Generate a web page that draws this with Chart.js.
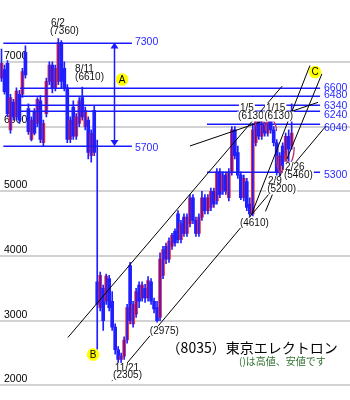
<!DOCTYPE html>
<html><head><meta charset="utf-8">
<script src="https://cdn.jsdelivr.net/npm/chart.js@4/dist/chart.umd.min.js"></script>
<style>html,body{margin:0;padding:0;background:#fff}#wrap{width:350px;height:400px;position:relative}</style>
</head><body><div id="wrap"><canvas id="c" width="350" height="400"></canvas></div>
<script>
// weekly candles (price in yen)
const opens  = [6750,6880,6980,5950,6380,6150,6500,6500,7150,6280,5800,6220,6050,6400,5750,6200,6700,6950,6600,6700,
                7300,6900,6600,5800,6300,5850,6050,6450,6000,6100,5550,6250,3600,3200,3500,3300,3650,3300,2900,2550,
                2400,2450,2700,3850,2950,3100,3550,3350,3500,3350,3600,3300,3200,3050,3700,4150,3950,4150,4380,4650,
                4250,4600,4350,4500,4900,4550,4350,4600,4900,4700,4750,5000,4850,5300,5000,5250,4900,5300,5950,5600,
                5250,4900,5150,4800,4650,5750,6100,5850,6050,5900,6100,5950,5750,5300,5700,5500,5850,5700];
const highs  = [7200,6950,7020,6500,6420,6600,6560,6900,7250,6350,6150,6280,6450,6480,6100,6750,7000,7000,6950,7360,
                7330,7000,6650,6150,6400,6200,6450,6610,6300,6150,5950,6320,5790,3750,3550,3720,3700,3450,2950,2600,
                2500,2750,3250,3900,3300,3500,3600,3600,3560,3680,3650,3350,3300,4050,4150,4200,4280,4350,4420,4700,
                4550,4650,4650,4950,4950,4600,4650,5000,4950,4950,5050,5050,5350,5350,5300,5300,5350,6000,6000,5700,
                5300,5250,5200,4900,6050,6130,6130,6100,6100,6130,6120,6000,5800,5600,5750,5900,5950,6350];
const lows   = [6700,6500,6150,5900,6100,6100,6050,6450,6750,5880,5780,5870,6000,5750,5700,6150,6650,6520,6550,6650,
                6600,6550,5750,5750,5800,5800,6000,6100,5950,5500,5450,5550,2560,3150,2850,3250,3150,2850,2480,2350,
                2305,2400,2650,2950,2900,3050,3200,3300,3280,3300,3250,3120,2975,3000,3650,3880,3900,4100,4150,4200,
                4200,4300,4300,4450,4500,4300,4300,4550,4650,4650,4700,4750,4800,4900,4950,4950,4850,5250,5500,5200,
                4870,4850,4700,4610,4620,5700,5800,5800,5850,5850,5900,5700,5250,5200,5350,5480,5460,5650];
const closes = [6980,6540,6200,6450,6150,6550,6100,6850,6800,5920,6100,5900,6420,5800,6050,6700,6950,6600,6900,7300,
                6700,6600,5800,6100,5850,6150,6400,6150,6250,5600,5900,5600,3250,3700,3000,3690,3200,2900,2550,2400,
                2450,2700,3200,3000,3250,3450,3300,3550,3350,3620,3300,3180,3000,3950,4100,3950,4230,4320,4200,4250,
                4500,4350,4600,4900,4550,4350,4600,4900,4700,4900,5000,4800,5300,4950,5250,5000,5300,5950,5550,5250,
                4900,5200,4750,4650,5950,6100,5850,6050,5900,6100,5950,5750,5300,5550,5400,5850,5650,5900];
const weeks = opens.map((_, i) => 'W' + (i + 1));
const emptySlots = Array(19).fill('');
const yTicks = [2000, 3000, 4000, 5000, 6000, 7000];

// support / resistance levels: value, from-index, to-index, label index, label nudge(px)
const levels = [
  {v: 7300, from: 0.6,  to: 43.6,  lx: 44.6,  dy: 0},
  {v: 5700, from: 0.6,  to: 43.6,  lx: 44.6,  dy: 2},
  {v: 6600, from: 6.2,  to: 106.5, lx: 107.8, dy: 0},
  {v: 6480, from: 6.2,  to: 106.5, lx: 107.8, dy: 0},
  {v: 6340, from: 6.2,  to: 106.5, lx: 107.8, dy: 1.5},
  {v: 6240, from: 6.2,  to: 106.5, lx: 107.8, dy: 4},
  {v: 6040, from: 68.7, to: 106.5, lx: 107.8, dy: 4},
  {v: 5300, from: 68.7, to: 106.5, lx: 107.8, dy: 3}
];
// trend lines [[index, price], [index, price]]
const trendLines = [
  [[22.2, 2740], [93.8, 6625]],
  [[36.9, 2064], [108.5, 6010]],
  [[63.0, 5700], [105.8, 6375]],
  [[83.6, 4645], [103.1, 6943]],
  [[88.25, 4689], [107.1, 6815]]
];
// notes: text, index, price
const notes = [
  ['6/2', 16.55, 7593], ['(7360)', 16.2, 7475],
  ['8/11', 24.6, 6889], ['(6610)', 24.6, 6764],
  ['1/5', 79.7, 6288], ['(6130)', 79.1, 6156],
  ['1/15', 88.4, 6288], ['(6130)', 87.8, 6156],
  ['2/26', 94.8, 5378], ['(5460)', 94.4, 5246],
  ['2/9', 89.1, 5158], ['(5200)', 88.8, 5026],
  ['(4610)', 79.7, 4513],
  ['(2975)', 49.6, 2841],
  ['11/21', 37.9, 2269], ['(2305)', 37.3, 2152]
];
const marks = [['A', 40.3, 6727], ['B', 30.6, 2475], ['C', 104.8, 6845]];
const arrowA = {i: 37.6, top: 7300, bottom: 5700};
// arcs: index, price, rx, ry, up(true = ∩)
const arcs = [
  [86.4, 5921, 6, 12, true], [90.1, 5921, 5.5, 12, true],
  [93.4, 5569, 4.5, 18, false], [96.2, 5701, 5, 17, false]
];
const title = {text: '（8035）東京エレクトロン', i: 55.2, v: 2577};
const subtitle = {text: '()は高値、安値です', i: 79.4, v: 2372};

const RED = '#ff2b2b', BLUE = '#1f1fff', LEVEL = '#1a1aff';

const annot = {
  id: 'annot',
  afterDatasetsDraw(chart) {
    const {ctx, scales: {x, y}} = chart;
    const px = i => x.getPixelForValue(i), py = v => y.getPixelForValue(v);
    ctx.save();
    // levels
    ctx.strokeStyle = LEVEL; ctx.lineWidth = 1.5;
    levels.forEach(l => {
      const yy = Math.round(py(l.v)) + 0.25;
      ctx.beginPath(); ctx.moveTo(px(l.from), yy); ctx.lineTo(px(l.to), yy); ctx.stroke();
    });
    // trend lines
    ctx.strokeStyle = '#000'; ctx.lineWidth = 1;
    trendLines.forEach(([a, b]) => {
      ctx.beginPath(); ctx.moveTo(px(a[0]), py(a[1])); ctx.lineTo(px(b[0]), py(b[1])); ctx.stroke();
    });
    // arrow A
    const ax = Math.round(px(arrowA.i)) + 0.5, at = py(arrowA.top), ab = py(arrowA.bottom);
    ctx.strokeStyle = LEVEL; ctx.fillStyle = LEVEL; ctx.lineWidth = 1.5;
    ctx.beginPath(); ctx.moveTo(ax, at + 4); ctx.lineTo(ax, ab - 4); ctx.stroke();
    ctx.beginPath(); ctx.moveTo(ax, at); ctx.lineTo(ax - 4, at + 6); ctx.lineTo(ax + 4, at + 6); ctx.closePath(); ctx.fill();
    ctx.beginPath(); ctx.moveTo(ax, ab); ctx.lineTo(ax - 4, ab - 6); ctx.lineTo(ax + 4, ab - 6); ctx.closePath(); ctx.fill();
    // arcs
    ctx.strokeStyle = '#b8306e'; ctx.lineWidth = 1.3;
    arcs.forEach(([i, v, rx, ry, up]) => {
      ctx.beginPath();
      if (up) ctx.ellipse(px(i), py(v), rx, ry, 0, Math.PI * 1.02, Math.PI * 1.98);
      else ctx.ellipse(px(i), py(v), rx, ry, 0, Math.PI * 0.02, Math.PI * 0.98);
      ctx.stroke();
    });
    // notes
    ctx.font = '10px "Liberation Sans", Arial, sans-serif';
    ctx.textBaseline = 'middle'; ctx.textAlign = 'left';
    notes.forEach(([t, i, v]) => {
      const w = ctx.measureText(t).width, xx = px(i), yy = py(v);
      ctx.fillStyle = '#fff'; ctx.fillRect(xx - 1, yy - 5, w + 2, 10);
      ctx.fillStyle = '#111'; ctx.fillText(t, xx, yy);
    });
    // level labels
    ctx.font = '10.5px "Liberation Sans", Arial, sans-serif';
    ctx.fillStyle = '#2a2aff';
    levels.forEach(l => ctx.fillText(String(l.v), px(l.lx), py(l.v) + l.dy));
    // circles
    marks.forEach(([t, i, v]) => {
      const xx = px(i), yy = py(v);
      ctx.beginPath(); ctx.arc(xx, yy, 6.3, 0, Math.PI * 2);
      ctx.fillStyle = '#ffff00'; ctx.fill();
      ctx.fillStyle = '#000'; ctx.textAlign = 'center';
      ctx.font = '10px "Liberation Sans", Arial, sans-serif';
      ctx.fillText(t, xx, yy + 0.5);
    });
    // title
    ctx.textAlign = 'left';
    ctx.fillStyle = '#000';
    ctx.font = '14px "Noto Sans CJK JP", sans-serif';
    ctx.fillText(title.text, px(title.i), py(title.v));
    ctx.fillStyle = '#2f6f2f';
    ctx.font = '10px "Noto Sans CJK JP", sans-serif';
    ctx.fillText(subtitle.text, px(subtitle.i), py(subtitle.v));
    ctx.restore();
  }
};

new Chart(document.getElementById('c'), {
  type: 'bar',
  data: {
    labels: weeks.concat(emptySlots),
    datasets: [
      {
        label: 'wick', order: 0, grouped: false, barThickness: 1,
        data: lows.map((l, i) => [l, highs[i]]),
        backgroundColor: BLUE
      },
      {
        label: 'body', order: 1, grouped: false, barThickness: 3,
        data: opens.map((o, i) => [o, closes[i]]),
        backgroundColor: opens.map((o, i) => closes[i] >= o ? RED : BLUE)
      }
    ]
  },
  options: {
    responsive: false, animation: false, devicePixelRatio: 1,
    layout: {padding: 0},
    plugins: {legend: {display: false}, tooltip: {enabled: false}},
    scales: {
      x: {display: false, offset: true},
      y: {
        min: 1932, max: 7798,
        afterBuildTicks: s => { s.ticks = yTicks.map(v => ({value: v})); },
        afterFit: s => { s.width = 0; },
        border: {display: false},
        grid: {color: '#d2d2d2', lineWidth: 2, drawTicks: false},
        ticks: {mirror: true, padding: 4, labelOffset: -6, color: '#000',
                callback: v => String(v),
                font: {family: '"Liberation Sans", Arial, sans-serif', size: 10.5}}
      }
    }
  },
  plugins: [annot]
});
</script></body></html>
